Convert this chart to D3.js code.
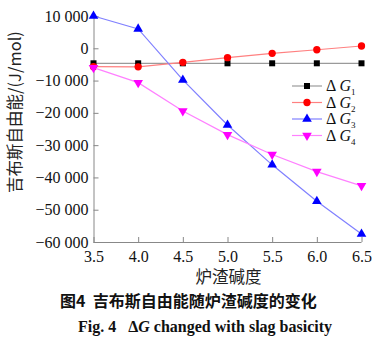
<!DOCTYPE html>
<html><head><meta charset="utf-8">
<script src="https://cdn.jsdelivr.net/npm/d3@7"></script>
<style>body{margin:0;background:#fff}</style>
</head><body>
<svg id="c" width="383" height="344"></svg>
<script>
const basicity = [3.5, 4.0, 4.5, 5.0, 5.5, 6.0, 6.5];
const g1 = [-4650, -4650, -4650, -4650, -4650, -4650, -4650];
const g2 = [-5700, -5750, -4350, -2900, -1550, -450, 700];
const g3 = [10000, 6000, -9800, -23750, -36100, -47400, -57500];
const g4 = [-6000, -10650, -19400, -26750, -32900, -38200, -42600];
const xTicks = [3.5, 4.0, 4.5, 5.0, 5.5, 6.0, 6.5];
const yTicks = [10000, 0, -10000, -20000, -30000, -40000, -50000, -60000];
const seriesNames = ["1", "2", "3", "4"];

const series = [
  {vals: g1, line: "#9a9a9a", fill: "#000", shape: d3.symbolSquare, size: 36},
  {vals: g2, line: "#ff8080", fill: "#ff0000", shape: d3.symbolCircle, size: 42},
  {vals: g3, line: "#8080ff", fill: "#0000ff", shape: d3.symbolTriangle, size: 40, rot: 0},
  {vals: g4, line: "#ff80ff", fill: "#ff00ff", shape: d3.symbolTriangle, size: 40, rot: 180}
];

const svg = d3.select("#c");
const x = d3.scaleLinear().domain([3.5, 6.5]).range([93.5, 361.5]);
const y = d3.scaleLinear().domain([-60000, 10000]).range([242, 16]);
const fmt = v => { const s = d3.format(",")(Math.abs(v)).replace(/,/g, " "); return (v < 0 ? "\u2212" : "") + s; };
const serif = "'Liberation Serif','DejaVu Serif',serif";
const cjk = "'Noto Sans CJK SC',sans-serif";

const ax = svg.append("g").attr("transform", "translate(0,242)")
  .call(d3.axisBottom(x).tickValues(xTicks).tickSize(-5).tickPadding(9).tickFormat(d3.format(".1f")));
const ay = svg.append("g").attr("transform", "translate(93.5,0)")
  .call(d3.axisLeft(y).tickValues(yTicks).tickSize(-5).tickPadding(5).tickFormat(fmt));
[ax, ay].forEach(g => {
  g.selectAll("path,line").attr("stroke", "#888").attr("stroke-width", 1);
  g.selectAll("text").attr("font-family", serif).attr("font-size", 16).attr("fill", "#111").attr("xml:space", "preserve");
});
ay.select(".domain").attr("d", "M0.5,16V242.5");
ax.select(".domain").attr("d", "M93.5,0.5H361.5");

const line = d3.line().x((d, i) => x(basicity[i])).y(d => y(d));
series.forEach(s => {
  svg.append("path").attr("d", line(s.vals)).attr("fill", "none").attr("stroke", s.line).attr("stroke-width", 1.2);
  svg.selectAll(null).data(s.vals).enter().append("path")
    .attr("d", d3.symbol().type(s.shape).size(s.size))
    .attr("transform", (d, i) => `translate(${x(basicity[i])},${y(d)}) rotate(${s.rot || 0})`)
    .attr("fill", s.fill);
});

// legend
const lg = svg.append("g");
series.forEach((s, i) => {
  const yy = 86 + i * 16.5;
  lg.append("line").attr("x1", 292).attr("x2", 322).attr("y1", yy).attr("y2", yy).attr("stroke", s.line).attr("stroke-width", 1.2);
  lg.append("path").attr("d", d3.symbol().type(s.shape).size(s.size)).attr("transform", `translate(307,${yy}) rotate(${s.rot || 0})`).attr("fill", s.fill);
  const t = lg.append("text").attr("x", 326).attr("y", yy + 5).attr("font-family", serif).attr("font-size", 16).attr("fill", "#111");
  t.append("tspan").text("\u0394 ");
  t.append("tspan").attr("font-style", "italic").text("G");
  t.append("tspan").attr("font-size", 9).attr("dy", 4).text(seriesNames[i]);
});

// y label
svg.append("text").attr("transform", "translate(21,112) rotate(-90)").attr("text-anchor", "middle")
  .attr("font-family", cjk).attr("font-size", 16.5).attr("fill", "#222")
  .text("吉布斯自由能/(J/mol)");
// x label
svg.append("text").attr("x", 228.5).attr("y", 283).attr("text-anchor", "middle")
  .attr("font-family", cjk).attr("font-size", 16.5).attr("fill", "#222")
  .text("炉渣碱度");
// captions
svg.append("text").attr("x", 60).attr("y", 307).attr("font-family", cjk)
  .attr("font-weight", "bold").attr("font-size", 16).attr("fill", "#111").attr("xml:space", "preserve")
  .text("图4  吉布斯自由能随炉渣碱度的变化");
const cap = svg.append("text").attr("x", 78).attr("y", 332).attr("font-family", serif)
  .attr("font-weight", "bold").attr("font-size", 16).attr("fill", "#111").attr("xml:space", "preserve");
cap.append("tspan").text("Fig. 4   \u0394");
cap.append("tspan").attr("font-style", "italic").text("G");
cap.append("tspan").text(" changed with slag basicity");
</script>
</body></html>
